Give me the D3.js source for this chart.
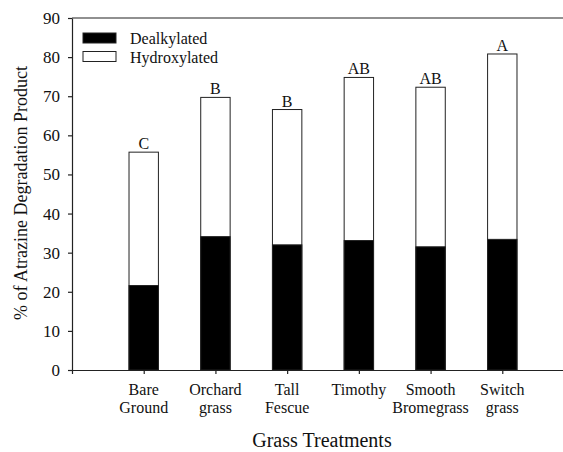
<!DOCTYPE html>
<html>
  <head>
    <meta charset="UTF-8">
    <style>
      html, body { margin: 0; padding: 0; background: #fff; }
      svg text { font-family: "Liberation Serif", "Times New Roman", serif; fill: #111; }
    </style>
  </head>
  <body>
    <svg id="chart" width="563" height="452"></svg>

    <script src="https://d3js.org/d3.v7.min.js"></script>
    <script>
      // data
      var categories = [["Bare", "Ground"], ["Orchard", "grass"], ["Tall", "Fescue"],
                        ["Timothy"], ["Smooth", "Bromegrass"], ["Switch", "grass"]];
      var dealkylated = [21.6, 34.1, 32.0, 33.1, 31.5, 33.4];
      var totals = [55.7, 69.7, 66.6, 74.8, 72.3, 80.8];
      var letters = ["C", "B", "B", "AB", "AB", "A"];
      var yTicks = [0, 10, 20, 30, 40, 50, 60, 70, 80, 90];

      var svg = d3.select("#chart");
      var ink = "#222";

      // categories sit at 1..6 on a 0..7 axis
      var x = d3.scaleLinear().domain([0, 7]).range([72, 574]);
      var y = d3.scaleLinear().domain([0, 90]).range([370, 18]);
      var barW = x(0.41) - x(0);

      // bars: hollow total first, black dealkylated part on top
      var bars = svg.append("g");
      bars.selectAll(".hyd")
        .data(totals)
        .enter().append("rect")
          .attr("x", function(d, i) { return x(i + 1) - barW / 2; })
          .attr("y", function(d) { return y(d); })
          .attr("width", barW)
          .attr("height", function(d) { return y(0) - y(d); })
          .attr("fill", "#fff")
          .attr("stroke", ink)
          .attr("stroke-width", 1);
      bars.selectAll(".dea")
        .data(dealkylated)
        .enter().append("rect")
          .attr("x", function(d, i) { return x(i + 1) - barW / 2; })
          .attr("y", function(d) { return y(d); })
          .attr("width", barW)
          .attr("height", function(d) { return y(0) - y(d); })
          .attr("fill", "#000")
          .attr("stroke", ink)
          .attr("stroke-width", 1);

      // significance letters
      svg.append("g").selectAll("text")
        .data(letters)
        .enter().append("text")
          .attr("x", function(d, i) { return x(i + 1); })
          .attr("y", function(d, i) { return y(totals[i]) - 3; })
          .attr("text-anchor", "middle")
          .attr("font-size", 16)
          .text(function(d) { return d; });

      // y axis
      var yAxis = svg.append("g")
          .attr("transform", "translate(" + x(0) + ",0)")
          .call(d3.axisLeft(y).tickValues(yTicks).tickSize(4).tickPadding(8).tickSizeOuter(0));
      yAxis.selectAll("text").attr("font-size", 17).style("font-family", null);

      // x axis
      var xAxis = svg.append("g")
          .attr("transform", "translate(0," + y(0) + ")")
          .call(d3.axisBottom(x).tickValues([0, 1, 2, 3, 4, 5, 6]).tickSize(4).tickFormat("").tickSizeOuter(0));
      xAxis.selectAll("text").remove();

      // top frame line
      svg.append("line")
          .attr("x1", x(0)).attr("x2", x(7))
          .attr("y1", y(90)).attr("y2", y(90))
          .attr("stroke", ink).attr("stroke-width", 1.2);

      svg.selectAll(".domain, .tick line").attr("stroke", ink).attr("stroke-width", 1.2);

      // two-line category labels
      var catText = svg.append("g").selectAll("text")
        .data(categories)
        .enter().append("text")
          .attr("text-anchor", "middle")
          .attr("font-size", 16)
          .attr("x", function(d, i) { return x(i + 1); })
          .attr("y", 395);
      catText.selectAll("tspan")
        .data(function(d) { return d; })
        .enter().append("tspan")
          .attr("x", function() { return d3.select(this.parentNode).attr("x"); })
          .attr("dy", function(d, i) { return i == 0 ? 0 : 18; })
          .text(function(d) { return d; });

      // axis titles
      svg.append("text")
          .attr("x", 322)
          .attr("y", 447)
          .attr("text-anchor", "middle")
          .attr("font-size", 20)
          .text("Grass Treatments");

      svg.append("text")
          .attr("transform", "translate(27,193) rotate(-90)")
          .attr("text-anchor", "middle")
          .attr("font-size", 18)
          .text("% of Atrazine Degradation Product");

      // legend
      var legendKeys = [["Dealkylated", "#000"], ["Hydroxylated", "#fff"]];
      var legend = svg.append("g").selectAll("g")
        .data(legendKeys)
        .enter().append("g")
          .attr("transform", function(d, i) { return "translate(83," + (33 + i * 18.5) + ")"; });
      legend.append("rect")
          .attr("width", 33)
          .attr("height", 10)
          .attr("fill", function(d) { return d[1]; })
          .attr("stroke", ink)
          .attr("stroke-width", 1);
      legend.append("text")
          .attr("x", 47)
          .attr("y", 11)
          .attr("font-size", 16)
          .text(function(d) { return d[0]; });
    </script>
  </body>
</html>
